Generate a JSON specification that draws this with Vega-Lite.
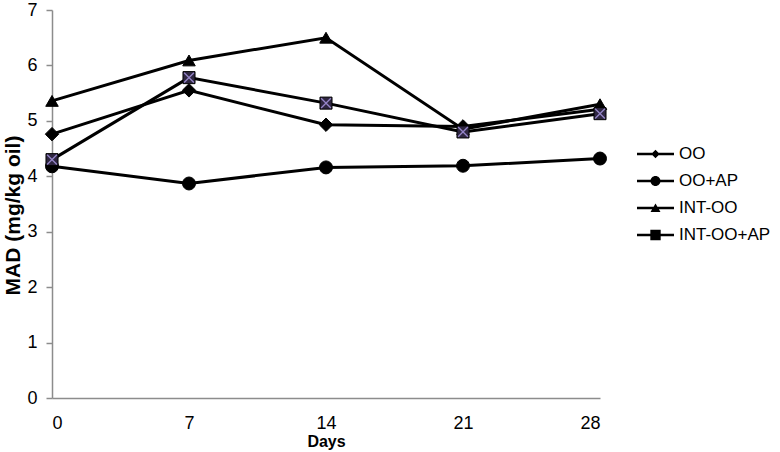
{
  "$schema": "https://vega.github.io/schema/vega-lite/v6.json",
  "width": 548,
  "height": 388,
  "autosize": {"type": "none"},
  "padding": {"left": 52, "top": 10, "right": 180, "bottom": 54},
  "config": {"view": {"stroke": null}, "font": "Liberation Sans"},
  "data": {
    "values": [
      {"series": "OO", "day": 0, "mad": 4.76},
      {"series": "OO", "day": 7, "mad": 5.55},
      {"series": "OO", "day": 14, "mad": 4.93},
      {"series": "OO", "day": 21, "mad": 4.9},
      {"series": "OO", "day": 28, "mad": 5.21},
      {"series": "OO+AP", "day": 0, "mad": 4.18},
      {"series": "OO+AP", "day": 7, "mad": 3.87},
      {"series": "OO+AP", "day": 14, "mad": 4.16},
      {"series": "OO+AP", "day": 21, "mad": 4.19},
      {"series": "OO+AP", "day": 28, "mad": 4.32},
      {"series": "INT-OO", "day": 0, "mad": 5.36},
      {"series": "INT-OO", "day": 7, "mad": 6.09},
      {"series": "INT-OO", "day": 14, "mad": 6.5},
      {"series": "INT-OO", "day": 21, "mad": 4.85},
      {"series": "INT-OO", "day": 28, "mad": 5.3},
      {"series": "INT-OO+AP", "day": 0, "mad": 4.3},
      {"series": "INT-OO+AP", "day": 7, "mad": 5.78},
      {"series": "INT-OO+AP", "day": 14, "mad": 5.32},
      {"series": "INT-OO+AP", "day": 21, "mad": 4.8},
      {"series": "INT-OO+AP", "day": 28, "mad": 5.13}
    ]
  },
  "encoding": {
    "x": {
      "field": "day",
      "type": "quantitative",
      "scale": {"domain": [0, 28], "nice": false, "zero": false},
      "axis": {
        "values": [0, 7, 14, 21, 28],
        "title": "Days",
        "grid": false,
        "ticks": false,
        "labelPadding": 16,
        "domainColor": "#8c8c8c",
        "domainWidth": 1.5,
        "labelFontSize": 18,
        "labelColor": "black",
        "titleFontSize": 16,
        "titleFontWeight": "bold",
        "titleColor": "black",
        "titlePadding": 1
      }
    },
    "y": {
      "field": "mad",
      "type": "quantitative",
      "scale": {"domain": [0, 7], "nice": false},
      "axis": {
        "values": [0, 1, 2, 3, 4, 5, 6, 7],
        "title": "MAD (mg/kg oil)",
        "grid": false,
        "tickColor": "#8c8c8c",
        "tickSize": 6,
        "tickWidth": 1.5,
        "domainColor": "#8c8c8c",
        "domainWidth": 1.5,
        "labelPadding": 9,
        "labelFontSize": 18,
        "labelColor": "black",
        "titleFontSize": 21,
        "titleFontWeight": "bold",
        "titleColor": "black",
        "titlePadding": 3,
        "titleY": 205
      }
    }
  },
  "layer": [
    {
      "mark": {"type": "line", "color": "black", "strokeWidth": 3},
      "encoding": {"detail": {"field": "series", "type": "nominal"}}
    },
    {
      "mark": {"type": "point", "filled": true, "stroke": "black", "strokeWidth": 1, "opacity": 1},
      "encoding": {
        "shape": {
          "field": "series",
          "type": "nominal",
          "scale": {
            "domain": ["OO", "OO+AP", "INT-OO", "INT-OO+AP"],
            "range": ["diamond", "circle", "triangle-up", "square"]
          },
          "legend": null
        },
        "size": {
          "field": "series",
          "type": "nominal",
          "scale": {
            "domain": ["OO", "OO+AP", "INT-OO", "INT-OO+AP"],
            "range": [180, 145, 150, 140]
          },
          "legend": null
        },
        "fill": {
          "condition": {"test": "datum.series === 'INT-OO+AP'", "value": "#2e2640"},
          "value": "black"
        }
      }
    },
    {
      "transform": [{"filter": "datum.series === 'INT-OO+AP'"}],
      "mark": {"type": "point", "shape": "M-1,-1L1,1M1,-1L-1,1", "filled": false, "stroke": "#9585c8", "strokeWidth": 1.3, "size": 95, "opacity": 1}
    },
    {
      "mark": {"type": "point", "filled": true, "fill": "black", "strokeWidth": 0, "size": 1, "opacity": 0},
      "encoding": {
        "shape": {
          "field": "series",
          "type": "nominal",
          "scale": {
            "domain": ["OO", "OO+AP", "INT-OO", "INT-OO+AP"],
            "range": [
              "M-1,-0.065H1V0.065H-1ZM0,-0.23L0.23,0L0,0.23L-0.23,0Z",
              "M-1,-0.065H1V0.065H-1ZM-0.27,0A0.27,0.27 0 1,1 0.27,0A0.27,0.27 0 1,1 -0.27,0Z",
              "M-1,-0.065H1V0.065H-1ZM-0.27,0.22L0,-0.24L0.27,0.22Z",
              "M-1,-0.065H1V0.065H-1ZM-0.28,-0.28H0.28V0.28H-0.28Z"
            ]
          },
          "legend": {
            "title": null,
            "orient": "none",
            "legendX": 585,
            "legendY": 125.5,
            "padding": 0,
            "rowPadding": 0,
            "symbolSize": 1369,
            "symbolOpacity": 1,
            "symbolFillColor": "black",
            "symbolStrokeWidth": 0,
            "labelFontSize": 17,
            "labelColor": "black",
            "labelOffset": 5
          }
        }
      }
    }
  ],
  "resolve": {"scale": {"shape": "independent", "size": "independent"}}
}
